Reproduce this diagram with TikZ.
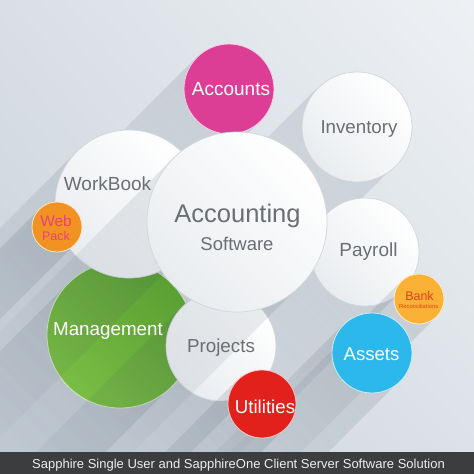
\documentclass[tikz,border=0pt]{standalone}
\usepackage{fontspec}
\setmainfont{Liberation Sans}
\usetikzlibrary{calc,fadings,shadings}
\definecolor{bgUL}{HTML}{D9DFE5}
\definecolor{bgUR}{HTML}{EEF1F4}
\definecolor{bgLL}{HTML}{C8D1DA}
\definecolor{bgLR}{HTML}{DCE2E7}
\definecolor{barc}{HTML}{3C3D3F}
\definecolor{bartext}{HTML}{EDEDED}
\definecolor{wline}{HTML}{D0D6DC}
\definecolor{wbot}{HTML}{E9ECEF}
\definecolor{grayt}{HTML}{6B6E72}
\definecolor{shadowc}{HTML}{3F5061}
\definecolor{magc}{HTML}{DC3E95}
\definecolor{greenA}{HTML}{5EA92E}
\definecolor{greenB}{HTML}{7DC244}
\definecolor{orangec}{HTML}{F29222}
\definecolor{webt}{HTML}{E4437E}
\definecolor{yellowc}{HTML}{FBB135}
\definecolor{bankt}{HTML}{DD4418}
\definecolor{cyanc}{HTML}{2DB8EC}
\definecolor{redc}{HTML}{E3211C}
\tikzfading[name=shfade, top color=transparent!0, middle color=transparent!70, bottom color=transparent!100]
\tikzset{
  circ/.style={circle, inner sep=0pt, outer sep=0pt, minimum size=#1},
  wc/.style={circ=#1, draw=wline, line width=0.7pt, top color=white, bottom color=wbot, shading angle=-45},
  colc/.style 2 args={circ=#1, draw=white!75!#2, line width=0.8pt, fill=#2},
  lbl/.style={inner sep=0pt, anchor=base, text=grayt},
  wlbl/.style={inner sep=0pt, anchor=base, text=white},
  shadowband/.style={fill=shadowc, fill opacity=0.14, path fading=shfade, fading angle=-45}
}
\newcommand\castshadow[3]{%
  \fill[shadowband] ({#1-0.7071*#3},{#2-0.7071*#3}) -- ({#1+0.7071*#3},{#2+0.7071*#3})
    -- ({#1+0.7071*#3-220},{#2+0.7071*#3+220}) -- ({#1-0.7071*#3-220},{#2-0.7071*#3+220}) -- cycle;}
\newcommand\fsz[1]{\fontsize{#1}{#1}\selectfont}
\begin{document}
\begin{tikzpicture}[x=1pt, y=-1pt]
\useasboundingbox (0,0) rectangle (474,474);
\clip (0,0) rectangle (474,474);
\shade[upper left=bgUL, upper right=bgUR, lower left=bgLL, lower right=bgLR] (0,0) rectangle (474,452);

% Accounts
\castshadow{229}{89}{45}
\node[colc={90pt}{magc}] (accts) at (229,89) {};
% Inventory
\castshadow{357}{127}{55}
\node[wc=110pt] (inv) at (357,127) {};
% Payroll
\castshadow{365}{252}{54}
\node[wc=108pt] (pay) at (365,252) {};
% Management
\castshadow{120}{335}{73}
\node[circ=146pt, draw=white!70!greenB, line width=0.8pt, top color=greenA, bottom color=greenB, shading angle=-45] (mgmt) at (120,335) {};
% WorkBook
\castshadow{129}{204}{74}
\node[wc=148pt] (wb) at (129,204) {};
% Projects
\castshadow{221}{346}{55}
\node[wc=110pt] (proj) at (221,346) {};
% Accounting Software
\castshadow{237}{222}{90}
\node[wc=180pt] (acc) at (237,222) {};
% Web Pack
\castshadow{57}{227}{25}
\node[colc={50pt}{orangec}] (web) at (57,227) {};
% Bank
\castshadow{419}{299}{25}
\node[colc={50pt}{yellowc}] (bank) at (419,299) {};
% Assets
\castshadow{372}{353}{40}
\node[colc={80pt}{cyanc}] (ast) at (372,353) {};
% Utilities
\castshadow{262}{404}{34}
\node[colc={68pt}{redc}] (util) at (262,404) {};

% labels
\node[wlbl, font=\fsz{19}] (acctsT) at (231,95) {Accounts};
\node[lbl, font=\fsz{18.7}] (invT) at (359,133.5) {Inventory};
\node[lbl, font=\fsz{19}] (wbT) at (107.5,190) {WorkBook};
\node[lbl, font=\fsz{25.5}] (accT) at (237.5,222) {Accounting};
\node[lbl, font=\fsz{18.5}] (swT) at (237,250) {Software};
\node[lbl, font=\fsz{19}] (payT) at (368.5,256.5) {Payroll};
\node[inner sep=0pt, anchor=base, text=webt, font=\fsz{15.4}] (webT) at (56,226) {Web};
\node[inner sep=0pt, anchor=base, text=webt, font=\fsz{12.4}] (packT) at (56,240) {Pack};
\node[inner sep=0pt, anchor=base, text=bankt, font=\fsz{12.5}] (bankT) at (419.5,300) {Bank};
\node[inner sep=0pt, anchor=base, text=bankt, font=\fsz{5.8}] (reconT) at (418.7,308) {Reconciliations};
\node[wlbl, font=\fsz{18.8}] (mgmtT) at (108,335) {Management};
\node[lbl, font=\fsz{18.8}] (projT) at (221,352) {Projects};
\node[wlbl, font=\fsz{18.5}] (astT) at (371.5,360) {Assets};
\node[wlbl, font=\fsz{18.7}] (utilT) at (265,413) {Utilities};

% bottom bar
\fill[barc] (0,452) rectangle (474,474);
\node[inner sep=0pt, anchor=base, text=bartext, font=\fsz{13}] (bar) at (238.5,468) {Sapphire Single User and SapphireOne Client Server Software Solution};
\end{tikzpicture}
\end{document}
